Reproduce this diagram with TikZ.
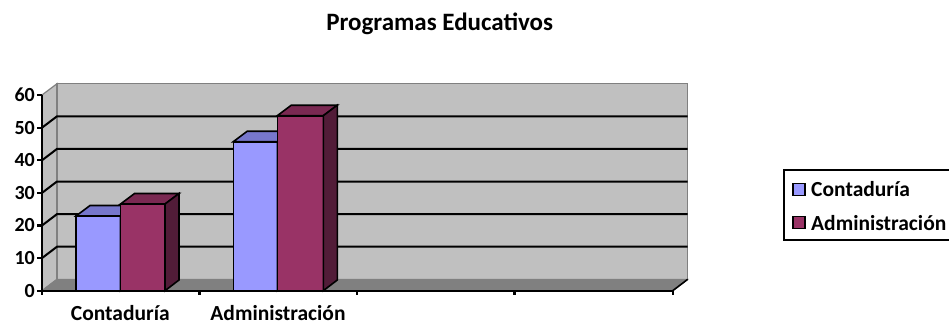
\documentclass[tikz,border=0pt]{standalone}
\usepackage{fontspec}
\setmainfont{Carlito}
\usepackage{tikz}

\definecolor{pared}{HTML}{C0C0C0}
\definecolor{piso}{HTML}{808080}
\definecolor{azulF}{HTML}{9999FF}
\definecolor{azulT}{HTML}{7777CC}
\definecolor{azulS}{HTML}{4C4C80}
\definecolor{rojoF}{HTML}{993366}
\definecolor{rojoT}{HTML}{7A2952}
\definecolor{rojoS}{HTML}{521C38}

\tikzset{
	muro/.style={fill=pared,draw=piso,line width=1.2pt},
	rejilla/.style={black,line width=2pt},
	eje/.style={black,line width=2.2pt},
	caja/.style={draw=black,line width=1.6pt},
	etiqueta/.style={font=\bfseries\fontsize{21.5}{22}\selectfont,inner sep=0pt},
	valor/.style={font=\bfseries\fontsize{20}{21}\selectfont,inner sep=0pt,anchor=east},
}

% columna 3D: x izq, x der, y sup, cara, tapa, lado
\newcommand{\columna}[6]{
	\filldraw[caja,fill=#4] (#1,290.7) rectangle (#2,#3);
	\filldraw[caja,fill=#5] (#1,#3) -- (#1+14,#3-10.5) -- (#2+14,#3-10.5) -- (#2,#3) -- cycle;
	\filldraw[caja,fill=#6] (#2,#3) -- (#2+14,#3-10.5) -- (#2+14,280) -- (#2,290.7) -- cycle;
}

\begin{document}
\begin{tikzpicture}[x=1pt,y=-1pt]
	\useasboundingbox (0,0) rectangle (949,324);

	% paredes y piso
	\filldraw[muro] (42,290.7) -- (42,95) -- (57,83.7) -- (57,279.3) -- cycle;
	\filldraw[muro] (57,83.7) rectangle (687.7,279.3);
	\filldraw[fill=piso,draw=piso,line width=1pt] (42,290.7) -- (57,279.3) -- (687.7,279.3) -- (672.7,290.7) -- cycle;

	% lineas de division
	\draw[rejilla] (42,258.1) -- (57,246.7) -- (687.7,246.7);
	\draw[rejilla] (42,225.5) -- (57,214.1) -- (687.7,214.1);
	\draw[rejilla] (42,192.9) -- (57,181.5) -- (687.7,181.5);
	\draw[rejilla] (42,160.3) -- (57,148.9) -- (687.7,148.9);
	\draw[rejilla] (42,127.7) -- (57,116.3) -- (687.7,116.3);
	\draw[draw=black,line width=1.6pt] (687.7,279.3) -- (672.7,290.7);

	% ejes
	\draw[eje] (42,95) -- (42,290.7) -- (672.7,290.7);
	\draw[eje] (37,290.7) -- (42,290.7);
	\draw[eje] (37,258.1) -- (42,258.1);
	\draw[eje] (37,225.5) -- (42,225.5);
	\draw[eje] (37,192.9) -- (42,192.9);
	\draw[eje] (37,160.3) -- (42,160.3);
	\draw[eje] (37,127.7) -- (42,127.7);
	\draw[eje] (37,95) -- (42,95);
	\draw[eje] (42,290.7) -- (42,295);
	\draw[eje] (199.5,290.7) -- (199.5,295);
	\draw[eje] (357,290.7) -- (357,295);
	\draw[eje] (514.5,290.7) -- (514.5,295);
	\draw[eje] (672.7,290.7) -- (672.7,295);

	% columnas
	\columna{76}{120.5}{216}{azulF}{azulT}{azulS}
	\columna{120.5}{165}{204}{rojoF}{rojoT}{rojoS}
	\columna{233.3}{277.3}{141.7}{azulF}{azulT}{azulS}
	\columna{277.3}{323.3}{115.7}{rojoF}{rojoT}{rojoS}

	% valores del eje
	\node[valor] (v0) at (35,290.7) {0};
	\node[valor] (v10) at (35,258.1) {10};
	\node[valor] (v20) at (35,225.5) {20};
	\node[valor] (v30) at (35,192.9) {30};
	\node[valor] (v40) at (35,160.3) {40};
	\node[valor] (v50) at (35,127.7) {50};
	\node[valor] (v60) at (35,95) {60};

	% categorias y titulo
	\node[etiqueta,anchor=base,text depth=0pt] (cat1) at (120.3,320) {Contaduría};
	\node[etiqueta,anchor=base,text depth=0pt] (cat2) at (278,320) {Administración};
	\node[etiqueta,anchor=base,font=\bfseries\fontsize{25}{26}\selectfont] (titulo) at (439.7,30.7) {Programas Educativos};

	% leyenda
	\draw[caja] (784,170) rectangle (960,240);
	\filldraw[fill=azulF,draw=black,line width=1.4pt] (793,183.3) rectangle (805,195.3);
	\filldraw[fill=rojoF,draw=black,line width=1.4pt] (793,216.7) rectangle (805,228.7);
	\node[etiqueta,anchor=west] (ley1) at (811,189.3) {Contaduría};
	\node[etiqueta,anchor=west] (ley2) at (811,222.7) {Administración};
\end{tikzpicture}
\end{document}
